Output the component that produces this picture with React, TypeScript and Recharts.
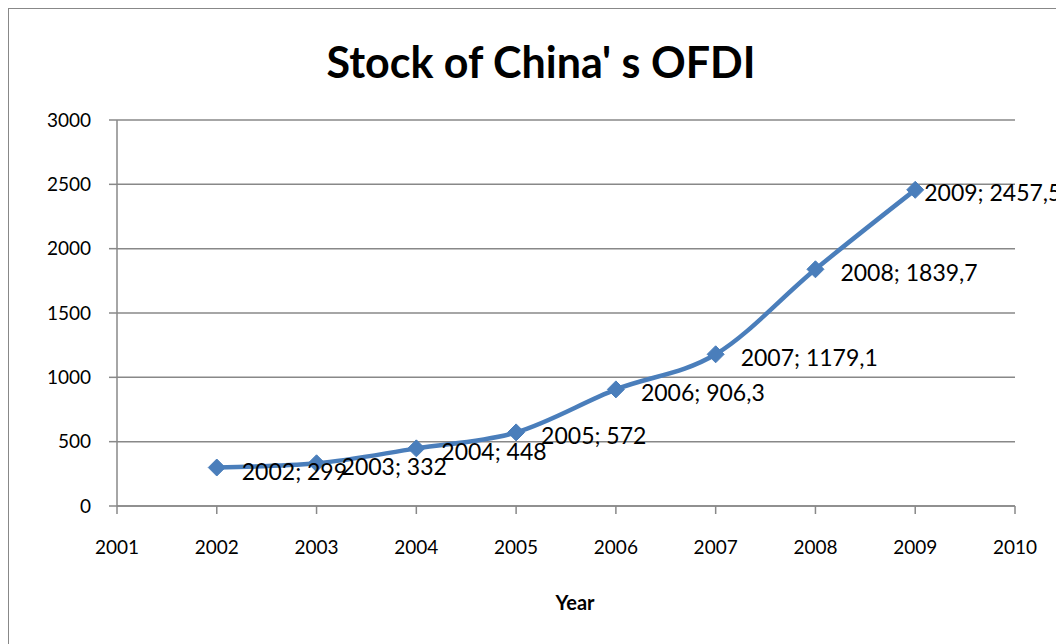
import React from 'react';
import { LineChart, Line, XAxis, YAxis, CartesianGrid, LabelList } from 'recharts';

const years = [2002, 2003, 2004, 2005, 2006, 2007, 2008, 2009];
const values = [299, 332, 448, 572, 906.3, 1179.1, 1839.7, 2457.5];
const xTicks = [2001, 2002, 2003, 2004, 2005, 2006, 2007, 2008, 2009, 2010];
const yTicks = [0, 500, 1000, 1500, 2000, 2500, 3000];
const title = "Stock of China' s OFDI";
const xTitle = 'Year';

const data = years.map((y, i) => ({
  year: y,
  value: values[i],
  label: `${y}; ${String(values[i]).replace('.', ',')}`,
}));

const FONT = 'Lato, "Open Sans", sans-serif';
const BLUE = '#4A7EBB';

const Diamond = (props: any) => {
  const { cx, cy } = props;
  if (cx == null || cy == null) return null;
  const s = 8.5;
  return (
    <polygon
      points={`${cx},${cy - s} ${cx + s},${cy} ${cx},${cy + s} ${cx - s},${cy}`}
      fill={BLUE}
      stroke={BLUE}
      strokeWidth={1}
    />
  );
};

const DataLabel = (props: any) => {
  const { x, y, value, index } = props;
  const last = index === data.length - 1;
  return (
    <text
      x={x + (last ? 9 : 25)}
      y={y + (last ? 2 : 3)}
      dominantBaseline="central"
      fontSize={23}
      fontFamily={FONT}
      fill="#000"
    >
      {value}
    </text>
  );
};

export default function App() {
  const W = 1100;
  const H = 660;
  return (
    <div
      style={{
        position: 'relative',
        width: W,
        height: H,
        border: '1.5px solid #888',
        boxSizing: 'content-box',
        background: '#fff',
        fontFamily: FONT,
      }}
    >
      <div
        style={{
          position: 'absolute',
          left: 0,
          width: 1064,
          top: 25,
          textAlign: 'center',
          fontSize: 43,
          fontWeight: 700,
          lineHeight: '56px',
          color: '#000',
        }}
      >
        {title}
      </div>
      <LineChart width={W} height={H} data={data} margin={{ top: 111, right: 94, left: 0, bottom: 103 }}>
        <CartesianGrid vertical={false} stroke="#888" strokeWidth={1.5} />
        <XAxis
          dataKey="year"
          type="number"
          domain={[2001, 2010]}
          ticks={xTicks}
          interval={0}
          allowDecimals={false}
          height={60}
          axisLine={{ stroke: '#888', strokeWidth: 1.5 }}
          tickLine={{ stroke: '#888', strokeWidth: 1.5 }}
          tickSize={8}
          tickMargin={27}
          tick={{ fontSize: 19, fontFamily: FONT, fill: '#000' }}
        />
        <YAxis
          type="number"
          domain={[0, 3000]}
          ticks={yTicks}
          interval={0}
          width={108}
          axisLine={{ stroke: '#888', strokeWidth: 1.5 }}
          tickLine={{ stroke: '#888', strokeWidth: 1.5 }}
          tickSize={8}
          tickMargin={18}
          tick={{ fontSize: 19, fontFamily: FONT, fill: '#000' }}
        />
        <Line
          type="monotone"
          dataKey="value"
          stroke={BLUE}
          strokeWidth={4.5}
          dot={<Diamond />}
          activeDot={false}
          isAnimationActive={false}
        >
          <LabelList dataKey="label" content={<DataLabel />} />
        </Line>
      </LineChart>
      <div
        style={{
          position: 'absolute',
          left: 466,
          width: 200,
          top: 578,
          textAlign: 'center',
          fontSize: 20,
          fontWeight: 700,
          lineHeight: '30px',
          color: '#000',
        }}
      >
        {xTitle}
      </div>
    </div>
  );
}
